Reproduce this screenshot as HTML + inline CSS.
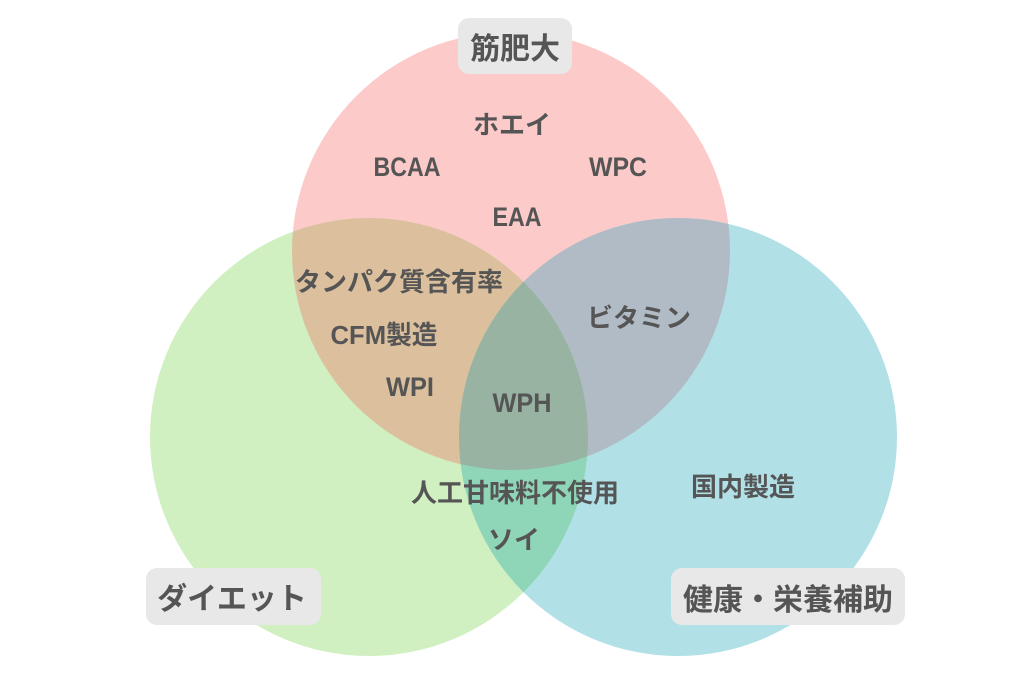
<!DOCTYPE html>
<html>
<head>
<meta charset="utf-8">
<style>
  html, body { margin: 0; padding: 0; background: #ffffff; }
  svg { display: block; }
  text { font-family: "Liberation Sans", "Noto Sans CJK JP", sans-serif; font-weight: bold; fill: #555555; }
</style>
</head>
<body>
<svg width="1024" height="683" viewBox="0 0 1024 683" xmlns="http://www.w3.org/2000/svg">
  <defs>
    <clipPath id="cR"><circle cx="511" cy="251" r="219"/></clipPath>
    <clipPath id="cG"><circle cx="369" cy="437" r="219"/></clipPath>
    <clipPath id="cB"><circle cx="678" cy="437" r="219"/></clipPath>
  </defs>
  <rect width="1024" height="683" fill="#ffffff"/>
  <!-- base circles -->
  <circle cx="511" cy="251" r="219" fill="#fdcaca"/>
  <circle cx="369" cy="437" r="219" fill="#d0f0c1"/>
  <circle cx="678" cy="437" r="219" fill="#b1e0e7"/>
  <!-- pairwise overlaps -->
  <circle cx="369" cy="437" r="219" fill="#dcc09e" clip-path="url(#cR)"/>
  <circle cx="678" cy="437" r="219" fill="#b1bbc5" clip-path="url(#cR)"/>
  <circle cx="678" cy="437" r="219" fill="#8fd5b8" clip-path="url(#cG)"/>
  <!-- triple overlap -->
  <g clip-path="url(#cR)">
    <circle cx="678" cy="437" r="219" fill="#98b3a2" clip-path="url(#cG)"/>
  </g>

  <!-- label boxes -->
  <rect x="458" y="18" width="114" height="56" rx="11" fill="#e8e8e8"/>
  <rect x="146" y="568" width="175" height="57" rx="11" fill="#e8e8e8"/>
  <rect x="671" y="568" width="234" height="57" rx="11" fill="#e8e8e8"/>

  <!-- label texts -->
  <text x="515" y="59" font-size="30" text-anchor="middle">筋肥大</text>
  <text x="232" y="609" font-size="30" text-anchor="middle">ダイエット</text>
  <text x="788" y="610" font-size="30" text-anchor="middle">健康・栄養補助</text>

  <!-- items -->
  <text x="512" y="134" font-size="26" text-anchor="middle">ホエイ</text>
  <text x="407" y="176" font-size="27" text-anchor="middle" textLength="67" lengthAdjust="spacingAndGlyphs">BCAA</text>
  <text x="618" y="176" font-size="27" text-anchor="middle" textLength="58" lengthAdjust="spacingAndGlyphs">WPC</text>
  <text x="517" y="226" font-size="27" text-anchor="middle" textLength="49" lengthAdjust="spacingAndGlyphs">EAA</text>

  <text x="399" y="291" font-size="26" text-anchor="middle">タンパク質含有率</text>
  <text x="384" y="344" font-size="26" text-anchor="middle" textLength="107" lengthAdjust="spacingAndGlyphs">CFM製造</text>
  <text x="410" y="396" font-size="27" text-anchor="middle" textLength="48" lengthAdjust="spacingAndGlyphs">WPI</text>
  <text x="522" y="412" font-size="27" text-anchor="middle" textLength="59" lengthAdjust="spacingAndGlyphs">WPH</text>
  <text x="639" y="327" font-size="26" text-anchor="middle">ビタミン</text>

  <text x="515" y="502" font-size="26" text-anchor="middle">人工甘味料不使用</text>
  <text x="514" y="549" font-size="26" text-anchor="middle">ソイ</text>
  <text x="743" y="496" font-size="26" text-anchor="middle">国内製造</text>
</svg>
</body>
</html>
